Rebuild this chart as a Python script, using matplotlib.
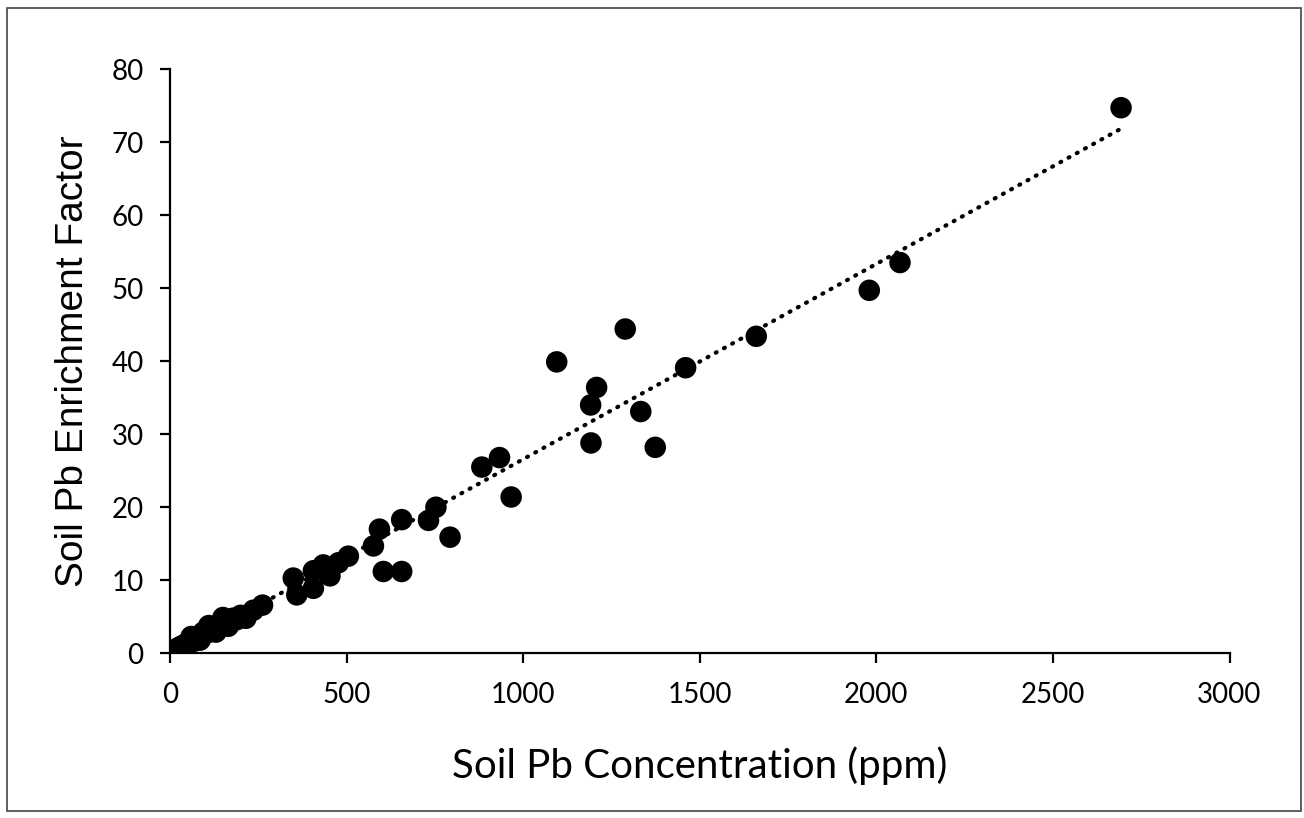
import matplotlib
matplotlib.use('Agg')
import matplotlib.pyplot as plt
from matplotlib.patches import Rectangle
import numpy as np

# soil Pb concentration (ppm) and enrichment factor
pb_ppm = [12, 18, 22, 25, 30, 34, 38, 42, 45, 50, 55, 60, 60, 65, 70, 75,
          80, 85, 88, 94, 100, 105, 110, 112, 120, 125, 130, 132, 140, 148,
          150, 155, 162, 165, 170, 178, 189, 200, 215, 236, 262,
          349, 359, 406, 406, 434, 453, 477, 505,
          576, 593, 604, 656, 656, 732, 753, 793, 883, 933, 966,
          1095, 1191, 1192, 1208, 1289, 1333, 1374, 1460, 1660,
          1980, 2067, 2693]
enrichment = [0.4, 0.6, 0.5, 0.8, 0.9, 1.0, 1.1, 1.0, 1.3, 1.4, 1.5, 1.7,
              2.3, 1.6, 1.9, 2.0, 2.2, 1.8, 2.4, 2.9, 2.7, 2.8, 3.8, 3.1,
              3.3, 3.5, 2.9, 3.6, 3.9, 4.0, 4.9, 4.3, 4.4, 3.7, 4.6, 4.8,
              4.6, 5.2, 4.8, 5.9, 6.6,
              10.3, 8.0, 8.9, 11.3, 12.1, 10.6, 12.4, 13.3,
              14.7, 17.0, 11.2, 11.2, 18.3, 18.2, 20.0, 15.9, 25.5, 26.8, 21.4,
              39.9, 34.0, 28.8, 36.4, 44.4, 33.1, 28.2, 39.1, 43.4,
              49.7, 53.5, 74.7]

x_ticks = [0, 500, 1000, 1500, 2000, 2500, 3000]
y_ticks = [0, 10, 20, 30, 40, 50, 60, 70, 80]

TICK_FONT = 'Lato'
YLAB_FONT = 'Liberation Sans'

fig = plt.figure(figsize=(13.04, 8.18), dpi=100)
ax = fig.add_axes([170 / 1304, 1 - 653.3 / 818, (1229.5 - 170) / 1304, (653.3 - 69) / 818])

ax.scatter(pb_ppm, enrichment, s=240, color='black', edgecolors='none', zorder=3)

# linear trendline over the data range
slope, intercept = np.polyfit(pb_ppm, enrichment, 1)
xs = np.array([min(pb_ppm), max(pb_ppm)])
ax.plot(xs, slope * xs + intercept, color='black', linewidth=3.0,
        linestyle=(0, (0.25, 2.0)), dash_capstyle='round', zorder=2)

ax.set_xlim(0, 3000)
ax.set_ylim(0, 80)
ax.set_xticks(x_ticks)
ax.set_yticks(y_ticks)
for side in ['top', 'right']:
    ax.spines[side].set_visible(False)
for side in ['left', 'bottom']:
    ax.spines[side].set_linewidth(1.6)
ax.tick_params(direction='out', length=7, width=1.6, pad=12,
               labelsize=20, colors='black')
ax.tick_params(axis='x', pad=14)
for lab in ax.get_xticklabels() + ax.get_yticklabels():
    lab.set_fontfamily(TICK_FONT)

ax.set_xlabel('Soil Pb Concentration (ppm)', fontsize=29, family=TICK_FONT, labelpad=27)
ax.set_ylabel('Soil Pb Enrichment Factor', fontsize=28, family=YLAB_FONT, labelpad=15)

# outer frame around the whole picture
fig.patches.append(Rectangle((7 / 1304, 7 / 818), 1294 / 1304, 803 / 818,
                             transform=fig.transFigure, fill=False,
                             edgecolor='#444444', linewidth=1.2))

fig.savefig('out.png', dpi=100)
